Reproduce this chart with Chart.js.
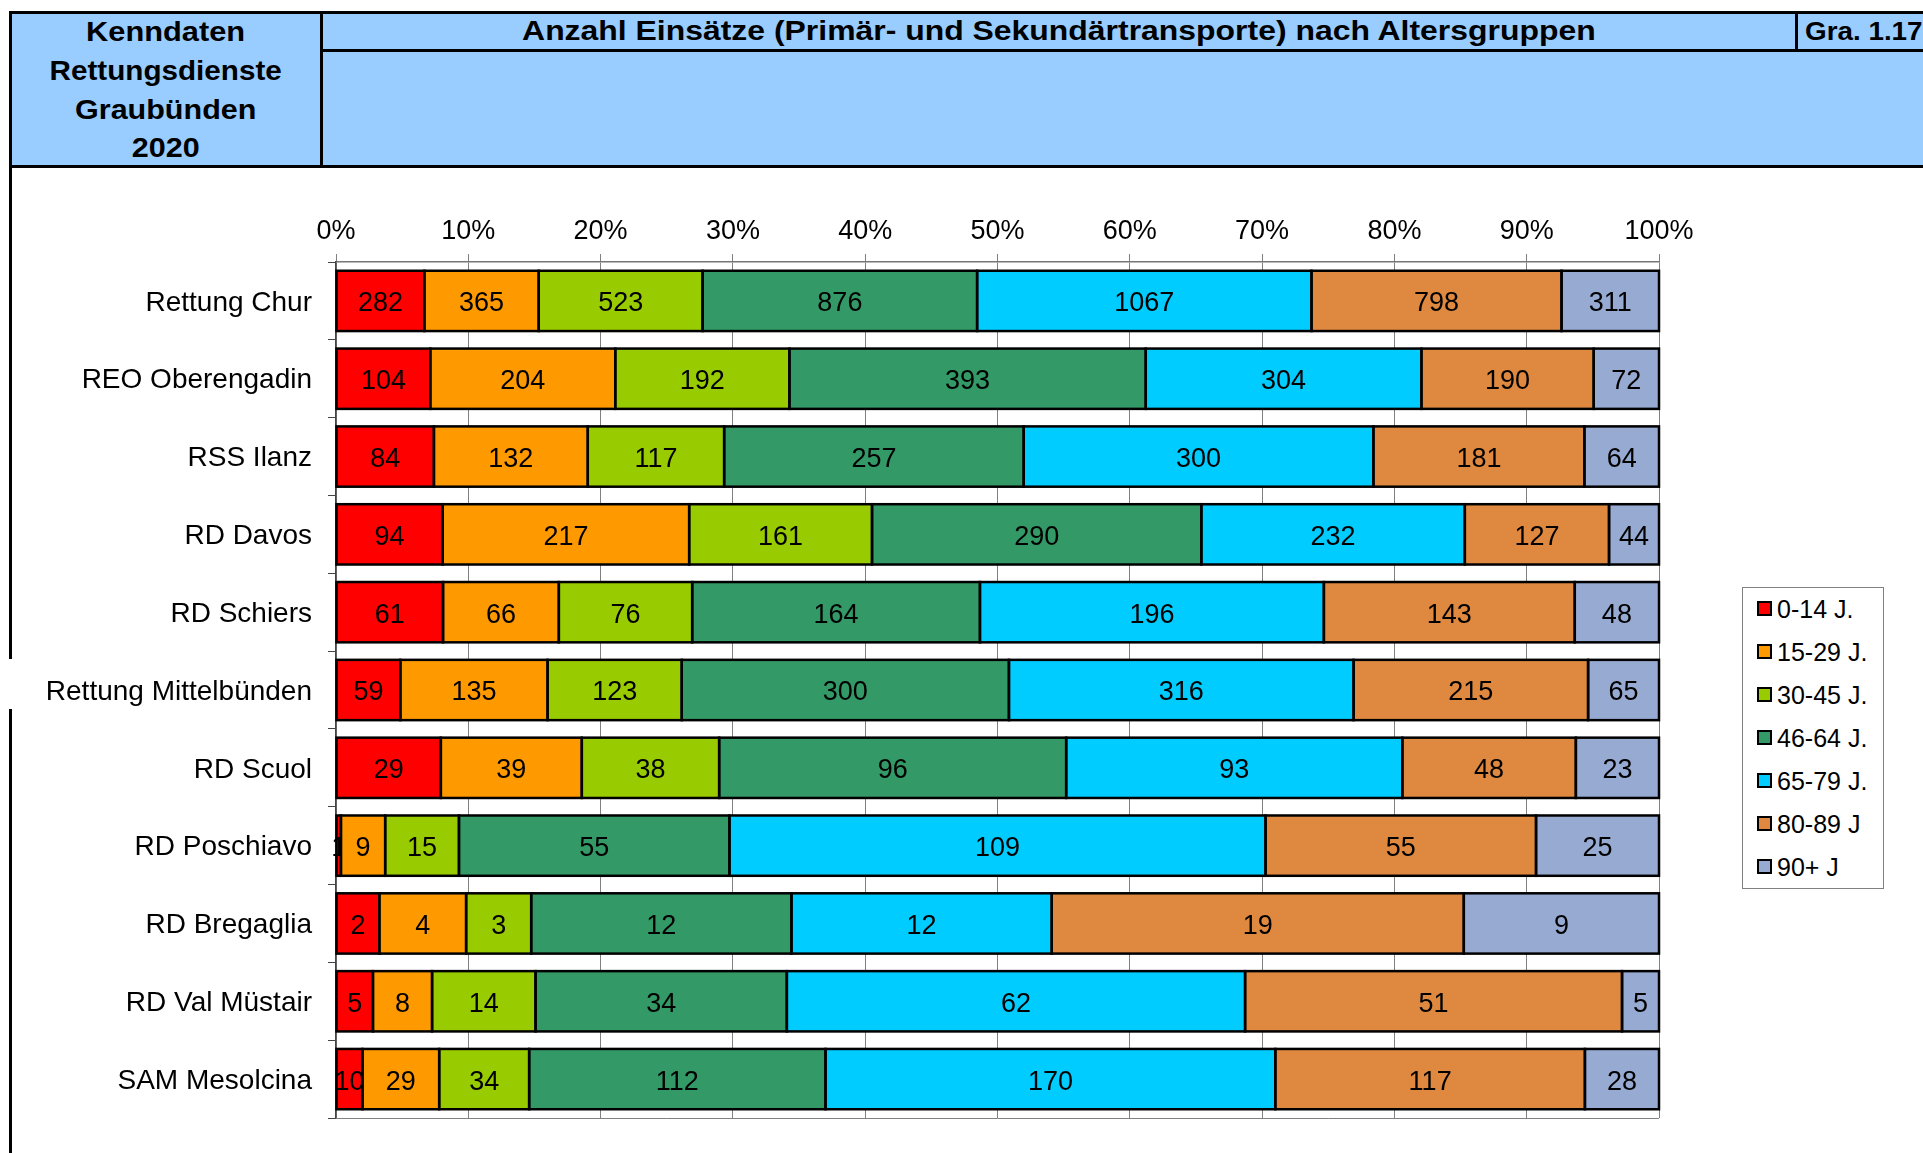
<!DOCTYPE html>
<html><head><meta charset="utf-8">
<script src="https://cdn.jsdelivr.net/npm/chart.js@4.4.1/dist/chart.umd.min.js"></script>
<style>
html,body{margin:0;padding:0;background:#fff;width:1923px;height:1153px;overflow:hidden;font-family:"Liberation Sans",Arial,sans-serif;}
#c{position:absolute;left:0;top:0;}
.hdrbox{position:absolute;left:9px;top:11px;width:1930px;height:157px;background:#99CCFF;border:3px solid #000;box-sizing:border-box;}
.blk{position:absolute;background:#000;}
.htxt{position:absolute;font-weight:bold;color:#000;text-align:center;white-space:nowrap;}
.sx{display:inline-block;}
#legend{position:absolute;left:1742px;top:587px;width:142px;height:302px;border:1px solid #808080;box-sizing:border-box;background:#fff;}
.li{position:absolute;left:0;height:30px;line-height:30px;font-size:25px;white-space:nowrap;}
.sw{position:absolute;left:14px;top:7px;width:15px;height:15px;border:2px solid #000;box-sizing:border-box;}
.lt{position:absolute;left:34px;top:0;}
</style></head><body>
<canvas id="c" width="1923" height="1153"></canvas>
<div class="hdrbox"></div>
<div class="blk" style="left:320px;top:11px;width:3px;height:157px;"></div>
<div class="blk" style="left:320px;top:49px;width:1610px;height:3px;"></div>
<div class="blk" style="left:1795px;top:11px;width:3px;height:40px;"></div>
<div class="htxt" style="left:12px;top:12px;width:308px;font-size:28.5px;line-height:38.8px;">
  <span class="sx" style="transform:scaleX(1.08)">Kenndaten</span><br>
  <span class="sx" style="transform:scaleX(1.04)">Rettungsdienste</span><br>
  <span class="sx" style="transform:scaleX(1.07)">Graubünden</span><br>
  <span class="sx" style="transform:scaleX(1.07)">2020</span></div>
<div class="htxt" style="left:323px;top:12px;width:1472px;font-size:28px;line-height:38px;"><span class="sx" style="transform:scaleX(1.14)">Anzahl Einsätze (Primär- und Sekundärtransporte) nach Altersgruppen</span></div>
<div class="htxt" style="left:1805px;top:12px;text-align:left;font-size:26.5px;line-height:38px;"><span class="sx" style="transform:scaleX(1.05);transform-origin:left center">Gra. 1.17</span></div>
<div class="blk" style="left:9px;top:167px;width:3px;height:492px;"></div>
<div class="blk" style="left:9px;top:709px;width:3px;height:444px;"></div>
<div id="legend"></div>
<script>
const categories = ['Rettung Chur','REO Oberengadin','RSS Ilanz','RD Davos','RD Schiers','Rettung Mittelbünden','RD Scuol','RD Poschiavo','RD Bregaglia','RD Val Müstair','SAM Mesolcina'];
const ageGroups = ['0-14 J.','15-29 J.','30-45 J.','46-64 J.','65-79 J.','80-89 J','90+ J'];
const v0_14  = [282,104, 84, 94, 61, 59,29,  1, 2, 5, 10];
const v15_29 = [365,204,132,217, 66,135,39,  9, 4, 8, 29];
const v30_45 = [523,192,117,161, 76,123,38, 15, 3,14, 34];
const v46_64 = [876,393,257,290,164,300,96, 55,12,34,112];
const v65_79 = [1067,304,300,232,196,316,93,109,12,62,170];
const v80_89 = [798,190,181,127,143,215,48, 55,19,51,117];
const v90    = [311, 72, 64, 44, 48, 65,23, 25, 9, 5, 28];
const xTicks = [0,10,20,30,40,50,60,70,80,90,100];
const colors = ['#FF0000','#FF9900','#99CC00','#339966','#00CCFF','#DE8840','#96AAD2'];

const series = [v0_14,v15_29,v30_45,v46_64,v65_79,v80_89,v90];
const totals = categories.map((_,j)=>series.reduce((s,a)=>s+a[j],0));
const FONT = '"Liberation Sans", Arial, sans-serif';
Chart.defaults.font.family = FONT;
Chart.defaults.color = '#000';

const overlay = {
  id:'overlay',
  afterDatasetsDraw(chart){
    const c = chart.ctx, a = chart.chartArea;
    c.save();
    c.strokeStyle = '#808080'; c.lineWidth = 1;
    c.beginPath(); c.moveTo(a.left, a.bottom+0.5); c.lineTo(a.right, a.bottom+0.5); c.stroke();
    c.restore();
    const rects = [];
    chart.data.datasets.forEach((ds,i)=>{
      const meta = chart.getDatasetMeta(i);
      meta.data.forEach((el,j)=>{
        const p = el.getProps(['x','y','base','height'], true);
        const l = Math.min(p.x,p.base), r = Math.max(p.x,p.base), t = p.y - p.height/2;
        rects.push([l,t,r-l,p.height]);
        c.save();
        c.beginPath(); c.rect(0, t, r, p.height); c.clip();
        c.fillStyle = '#000'; c.font = '27px ' + FONT;
        c.textAlign = 'center'; c.textBaseline = 'middle';
        c.fillText(String(ds.raw[j]), (l+r)/2, p.y+3);
        c.restore();
      });
    });
    c.save(); c.strokeStyle = '#000'; c.lineWidth = 2.5;
    rects.forEach(q=>c.strokeRect(q[0],q[1],q[2],q[3]));
    c.restore();
  }
};

new Chart(document.getElementById('c'), {
  type:'bar',
  data:{
    labels:categories,
    datasets: series.map((arr,i)=>({
      label: ageGroups[i],
      data: arr.map((v,j)=>v/totals[j]*100),
      raw: arr,
      backgroundColor: colors[i],
      borderWidth: 0,
      barPercentage: 0.775,
      categoryPercentage: 1
    }))
  },
  options:{
    indexAxis:'y', responsive:false, animation:false,
    layout:{padding:{left:0,top:0,right:264,bottom:35}},
    plugins:{legend:{display:false}, tooltip:{enabled:false}},
    scales:{
      x:{
        position:'top', stacked:true, min:0, max:100,
        afterBuildTicks:s=>{ s.ticks = xTicks.map(v=>({value:v})); },
        ticks:{callback:v=>v+'%', color:'#000', font:{size:27}, padding:6, maxRotation:0, autoSkip:false},
        grid:{color:'#808080', lineWidth:1, tickLength:8, drawTicks:true},
        border:{color:'#777', width:1.5},
        afterFit:s=>{ s.height = 262; }
      },
      y:{
        stacked:true,
        ticks:{color:'#000', font:{size:28}, padding:16, autoSkip:false, labelOffset:2},
        grid:{drawOnChartArea:false, tickLength:8, color:'#444', offset:true},
        border:{color:'#444', width:1.5},
        afterFit:s=>{ s.width = 336; }
      }
    }
  },
  plugins:[overlay]
});

const lg = document.getElementById('legend');
ageGroups.forEach((g,i)=>{
  const d = document.createElement('div');
  d.className = 'li';
  d.style.top = (6 + i*43) + 'px';
  d.innerHTML = '<span class="sw" style="background:'+colors[i]+'"></span><span class="lt">'+g+'</span>';
  lg.appendChild(d);
});
</script>
</body></html>
